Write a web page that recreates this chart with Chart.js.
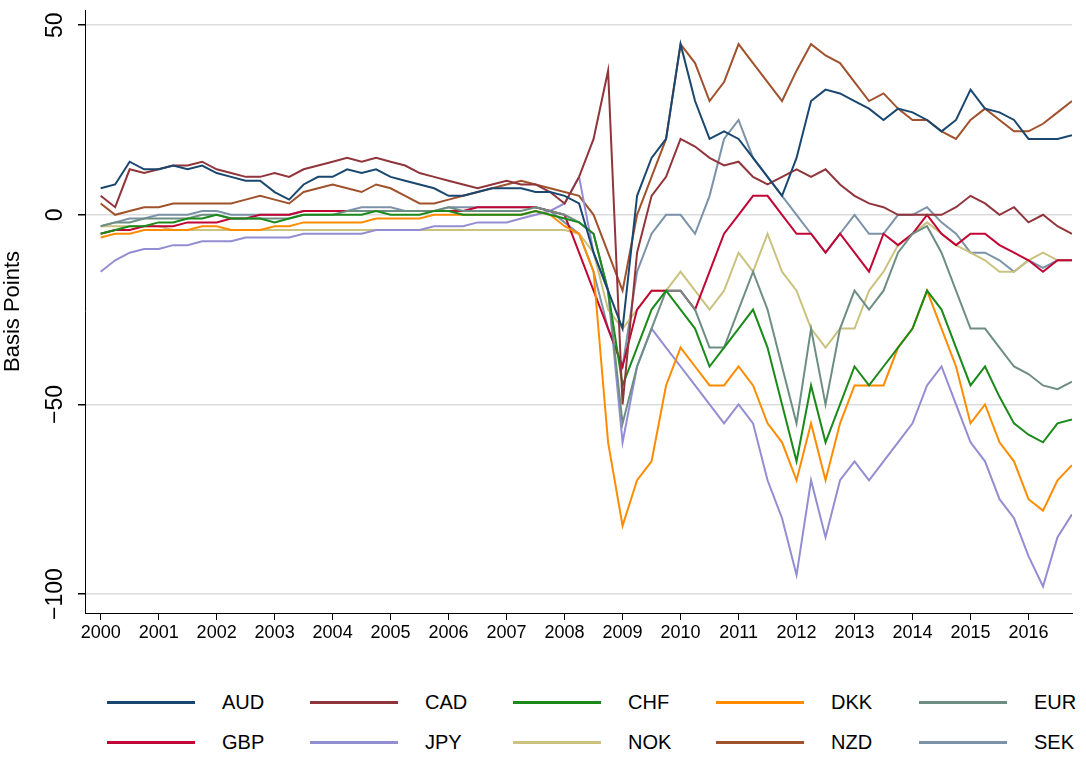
<!DOCTYPE html>
<html>
<head>
<meta charset="utf-8">
<script src="https://cdn.jsdelivr.net/npm/chart.js@4.4.1/dist/chart.umd.min.js"></script>
<style>
  body { margin: 0; background: #fff; font-family: "Liberation Sans", Arial, sans-serif; }
  #wrap { width: 1086px; height: 660px; position: relative; }
  #legend { display: grid; grid-template-columns: repeat(5, 203px); row-gap: 17px; margin-left: 107px; margin-top: 31px; }
  .item { display: flex; align-items: center; font-size: 20px; }
  .item span.line { width: 88px; height: 3px; margin-right: 27px; }
</style>
</head>
<body>
<div id="wrap"><canvas id="c" width="1086" height="660"></canvas></div>
<div id="legend"></div>
<script>
const years = [
  2000, 2000.25, 2000.5, 2000.75, 2001, 2001.25, 2001.5, 2001.75, 2002, 2002.25, 2002.5, 2002.75,
  2003, 2003.25, 2003.5, 2003.75, 2004, 2004.25, 2004.5, 2004.75, 2005, 2005.25, 2005.5, 2005.75,
  2006, 2006.25, 2006.5, 2006.75, 2007, 2007.25, 2007.5, 2007.75, 2008, 2008.25, 2008.5, 2008.75,
  2009, 2009.25, 2009.5, 2009.75, 2010, 2010.25, 2010.5, 2010.75, 2011, 2011.25, 2011.5, 2011.75,
  2012, 2012.25, 2012.5, 2012.75, 2013, 2013.25, 2013.5, 2013.75, 2014, 2014.25, 2014.5, 2014.75,
  2015, 2015.25, 2015.5, 2015.75, 2016, 2016.25, 2016.5, 2016.75
];
const yearTicks = [2000,2001,2002,2003,2004,2005,2006,2007,2008,2009,2010,2011,2012,2013,2014,2015,2016];
const yTicks = [-100, -50, 0, 50];

const AUD = [7,8,14,12, 12,13,12,13, 11,10,9,9, 6,4,8,10, 10,12,11,12, 10,9,8,7, 5,5,6,7, 7,7,6,6, 5,3,-10,-20, -30,5,15,20, 45,30,20,22, 20,15,10,5, 15,30,33,32, 30,28,25,28, 27,25,22,25, 33,28,27,25, 20,20,20,21];
const CAD = [5,2,12,11, 12,13,13,14, 12,11,10,10, 11,10,12,13, 14,15,14,15, 14,13,11,10, 9,8,7,8, 9,8,8,6, 3,10,20,38, -50,-10,5,10, 20,18,15,13, 14,10,8,10, 12,10,12,8, 5,3,2,0, 0,0,0,2, 5,3,0,2, -2,0,-3,-5];
const CHF = [-5,-4,-3,-3, -2,-2,-1,-1, 0,-1,-1,-1, -2,-1,0,0, 0,0,0,1, 0,0,0,1, 1,0,0,0, 0,0,1,0, -1,-2,-5,-20, -45,-35,-25,-20, -25,-30,-40,-35, -30,-25,-35,-50, -65,-45,-60,-50, -40,-45,-40,-35, -30,-20,-25,-35, -45,-40,-48,-55, -58,-60,-55,-54];
const DKK = [-6,-5,-5,-4, -4,-4,-4,-3, -3,-4,-4,-4, -3,-3,-2,-2, -2,-2,-2,-1, -1,-1,-1,0, 0,0,0,0, 0,0,1,0, -3,-5,-15,-60, -82,-70,-65,-45, -35,-40,-45,-45, -40,-45,-55,-60, -70,-55,-70,-55, -45,-45,-45,-35, -30,-20,-30,-40, -55,-50,-60,-65, -75,-78,-70,-66];
const EUR = [-3,-2,-2,-1, -1,-1,-1,0, 0,-1,-1,-1, -1,-1,0,0, 0,1,1,1, 1,1,1,1, 2,1,1,1, 1,1,2,1, 0,-2,-5,-20, -55,-40,-30,-20, -20,-25,-35,-35, -25,-15,-25,-40, -55,-30,-50,-30, -20,-25,-20,-10, -5,-3,-10,-20, -30,-30,-35,-40, -42,-45,-46,-44];
const GBP = [-5,-4,-4,-3, -3,-3,-2,-2, -2,-1,-1,0, 0,0,1,1, 1,1,1,1, 1,1,1,1, 1,1,2,2, 2,2,2,1, 0,-10,-20,-30, -40,-25,-20,-20, -20,-25,-15,-5, 0,5,5,0, -5,-5,-10,-5, -10,-15,-5,-8, -5,0,-5,-8, -5,-5,-8,-10, -12,-15,-12,-12];
const JPY = [-15,-12,-10,-9, -9,-8,-8,-7, -7,-7,-6,-6, -6,-6,-5,-5, -5,-5,-5,-4, -4,-4,-4,-3, -3,-3,-2,-2, -2,-1,0,1, 3,10,-10,-20, -60,-40,-30,-35, -40,-45,-50,-55, -50,-55,-70,-80, -95,-70,-85,-70, -65,-70,-65,-60, -55,-45,-40,-50, -60,-65,-75,-80, -90,-98,-85,-79];
const NOK = [-3,-3,-3,-3, -3,-4,-4,-4, -4,-4,-4,-4, -4,-4,-4,-4, -4,-4,-4,-4, -4,-4,-4,-4, -4,-4,-4,-4, -4,-4,-4,-4, -4,-5,-10,-25, -30,-25,-20,-20, -15,-20,-25,-20, -10,-15,-5,-15, -20,-30,-35,-30, -30,-20,-15,-8, -5,-2,-5,-8, -10,-12,-15,-15, -12,-10,-12,-12];
const NZD = [3,0,1,2, 2,3,3,3, 3,3,4,5, 4,3,6,7, 8,7,6,8, 7,5,3,3, 4,5,6,7, 8,9,8,7, 6,5,0,-10, -20,0,10,20, 45,40,30,35, 45,40,35,30, 38,45,42,40, 35,30,32,28, 25,25,22,20, 25,28,25,22, 22,24,27,30];
const SEK = [-3,-2,-1,-1, 0,0,0,1, 1,0,0,0, 0,0,1,1, 1,1,2,2, 2,1,1,1, 2,2,2,2, 2,2,2,1, -2,-5,-15,-30, -40,-15,-5,0, 0,-5,5,20, 25,15,10,5, 0,-5,-10,-5, 0,-5,-5,0, 0,2,-2,-5, -10,-10,-12,-15, -12,-14,-12,-12];

const series = [
  ["AUD", AUD, "#1a476f"], ["CAD", CAD, "#90353b"], ["CHF", CHF, "#1b8a1b"],
  ["DKK", DKK, "#ff8c00"], ["EUR", EUR, "#6e8e84"], ["GBP", GBP, "#c10534"],
  ["JPY", JPY, "#938dd2"], ["NOK", NOK, "#cac27e"], ["NZD", NZD, "#a0522d"],
  ["SEK", SEK, "#7b92a8"]
];

const legend = document.getElementById("legend");
series.forEach(([name, , color]) => {
  legend.innerHTML += `<div class="item"><span class="line" style="background:${color}"></span>${name}</div>`;
});

const yLabels = {
  id: "yLabels",
  afterDraw(chart) {
    const ctx = chart.ctx, y = chart.scales.y;
    ctx.save();
    ctx.fillStyle = "#000";
    ctx.font = "23px 'Liberation Sans', Arial";
    ctx.textAlign = "center";
    ctx.textBaseline = "middle";
    yTicks.forEach(v => {
      ctx.save();
      ctx.translate(56, y.getPixelForValue(v));
      ctx.rotate(-Math.PI / 2);
      ctx.fillText(String(v).replace("-", "\u2212"), 0, 0);
      ctx.restore();
    });
    ctx.restore();
  }
};

new Chart(document.getElementById("c"), {
  type: "line",
  data: {
    datasets: series.map(([name, vals, color]) => ({
      label: name,
      data: vals.map((v, i) => ({ x: years[i], y: v })),
      borderColor: color,
      borderWidth: 2,
      pointRadius: 0,
      tension: 0
    }))
  },
  options: {
    responsive: false,
    animation: false,
    layout: { padding: { top: 10, right: 14 } },
    plugins: { legend: { display: false }, tooltip: { enabled: false } },
    scales: {
      x: {
        type: "linear",
        min: 1999.73,
        max: 2016.75,
        afterBuildTicks: s => { s.ticks = yearTicks.map(v => ({ value: v })); },
        afterFit: s => { s.height = 47; },
        grid: { drawOnChartArea: false, color: "#000", tickLength: 7 },
        border: { color: "#000" },
        ticks: { color: "#000", font: { size: 18 }, maxRotation: 0, autoSkip: false, padding: 2, callback: v => String(v) }
      },
      y: {
        min: -105,
        max: 54,
        afterBuildTicks: s => { s.ticks = yTicks.map(v => ({ value: v })); },
        afterFit: s => { s.width = 85; },
        grid: { color: "#dcdcdc", lineWidth: 1.5, tickColor: "#000", tickLength: 7 },
        border: { color: "#000" },
        ticks: { display: false },
        title: { display: true, text: "Basis Points", color: "#000", font: { size: 22 }, padding: 0 }
      }
    }
  },
  plugins: [yLabels]
});
</script>
</body>
</html>
